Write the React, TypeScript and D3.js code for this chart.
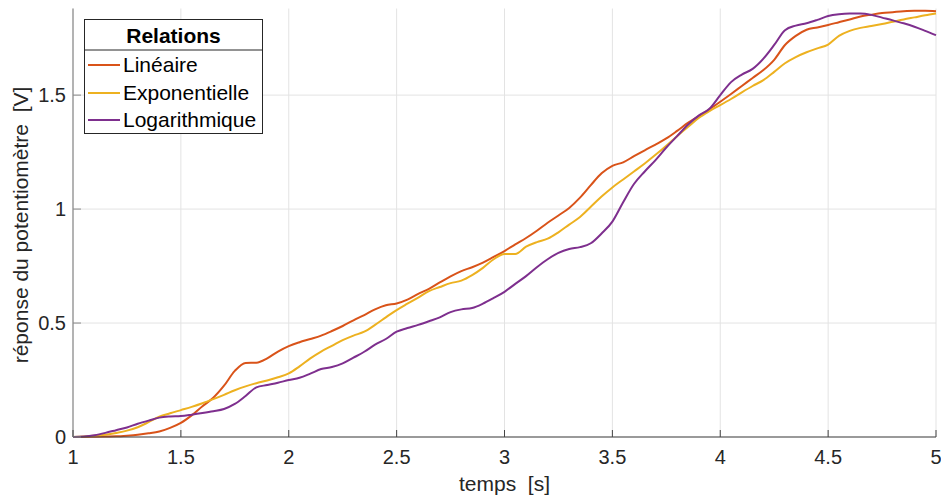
import React from "react";
import * as d3 from "d3";

const times = [
  1.0, 1.05, 1.1, 1.15, 1.2, 1.25, 1.3, 1.35, 1.4, 1.45, 1.5, 1.55, 1.6, 1.65, 1.7, 1.75, 1.8, 1.85, 1.9, 1.95,
  2.0, 2.05, 2.1, 2.15, 2.2, 2.25, 2.3, 2.35, 2.4, 2.45, 2.5, 2.55, 2.6, 2.65, 2.7, 2.75, 2.8, 2.85, 2.9, 2.95,
  3.0, 3.05, 3.1, 3.15, 3.2, 3.25, 3.3, 3.35, 3.4, 3.45, 3.5, 3.55, 3.6, 3.65, 3.7, 3.75, 3.8, 3.85, 3.9, 3.95,
  4.0, 4.05, 4.1, 4.15, 4.2, 4.25, 4.3, 4.35, 4.4, 4.45, 4.5, 4.55, 4.6, 4.65, 4.7, 4.75, 4.8, 4.85, 4.9, 4.95, 5.0,
];

const lineaire = [
  0.0, 0.0, 0.001, 0.002, 0.003, 0.006, 0.01, 0.016, 0.024, 0.04, 0.062, 0.095, 0.135, 0.172, 0.225, 0.29, 0.325, 0.326, 0.345, 0.375,
  0.399, 0.416, 0.43, 0.445, 0.465, 0.487, 0.512, 0.535, 0.56, 0.578, 0.586, 0.603, 0.628, 0.65, 0.678, 0.705, 0.728, 0.745, 0.765, 0.79,
  0.816, 0.845, 0.873, 0.905, 0.94, 0.972, 1.005, 1.05, 1.105, 1.157, 1.19, 1.205, 1.232, 1.258, 1.283, 1.31, 1.343, 1.378, 1.408, 1.438,
  1.471, 1.505, 1.54, 1.575, 1.61, 1.655, 1.72, 1.76, 1.787, 1.797, 1.808, 1.82, 1.832, 1.845, 1.853, 1.86, 1.864, 1.868, 1.87, 1.87, 1.868,
];

const exponentielle = [
  0.0, 0.002, 0.005, 0.01, 0.018, 0.028, 0.043, 0.065, 0.089, 0.104, 0.118, 0.132, 0.148, 0.166, 0.185, 0.205, 0.222, 0.236, 0.248, 0.262,
  0.279, 0.31, 0.345, 0.375, 0.4, 0.425, 0.445, 0.462, 0.492, 0.525, 0.557, 0.585, 0.612, 0.64, 0.658, 0.675, 0.686, 0.71, 0.742, 0.78,
  0.803, 0.803, 0.835, 0.855, 0.87, 0.898, 0.932, 0.965, 1.01, 1.055, 1.095, 1.13, 1.165, 1.2, 1.238, 1.278, 1.32, 1.36, 1.4, 1.43,
  1.456, 1.483, 1.512, 1.54, 1.566, 1.602, 1.64, 1.667, 1.688, 1.705, 1.722, 1.76, 1.782, 1.795, 1.803, 1.812, 1.822, 1.832, 1.841, 1.85, 1.858,
];

const logarithmique = [
  0.0, 0.002, 0.008, 0.018, 0.03, 0.042, 0.058, 0.072, 0.085, 0.09, 0.092, 0.098, 0.105, 0.113, 0.123, 0.145, 0.18, 0.218, 0.228, 0.238,
  0.25, 0.26, 0.278, 0.298, 0.307, 0.323, 0.348, 0.374, 0.405, 0.43, 0.462, 0.478, 0.492, 0.508, 0.525, 0.548, 0.56, 0.566, 0.585, 0.61,
  0.637, 0.672, 0.706, 0.745, 0.78, 0.808, 0.825, 0.833, 0.85, 0.893, 0.945, 1.03, 1.11, 1.165, 1.215, 1.27, 1.32, 1.37, 1.41, 1.44,
  1.5, 1.557, 1.59, 1.615, 1.66, 1.72, 1.785, 1.805, 1.815, 1.83, 1.847, 1.855, 1.858, 1.858, 1.852, 1.84, 1.828, 1.815, 1.8, 1.782, 1.763,
];

const seriesNames = ["Linéaire", "Exponentielle", "Logarithmique"];
const seriesColors = ["#D95319", "#EDB120", "#7E2F8E"];
const seriesValues = [lineaire, exponentielle, logarithmique];

const xTicks = [1, 1.5, 2, 2.5, 3, 3.5, 4, 4.5, 5];
const yTicks = [0, 0.5, 1, 1.5];

const W = 941;
const H = 502;
const left = 73;
const right = 936;
const top = 8.5;
const bottom = 437;

export default function App() {
  const x = d3.scaleLinear().domain([1, 5]).range([left, right]);
  const y = d3.scaleLinear().domain([0, 1.88]).range([bottom, top]);

  const lineGen = d3
    .line<number>()
    .x((_, i) => x(times[i]))
    .y((d) => y(d))
    .curve(d3.curveMonotoneX);

  const font = "'Liberation Sans', Arial, Helvetica, sans-serif";
  const legendRows = [65, 93, 120];

  return (
    <svg
      width={W}
      height={H}
      style={{ position: "absolute", left: 0, top: 0, background: "#fff" }}
      fontFamily={font}
    >
      <rect x={0} y={0} width={W} height={H} fill="#fff" />
      {/* grid */}
      {xTicks.map((t) => (
        <line key={"gx" + t} x1={x(t)} x2={x(t)} y1={top} y2={bottom} stroke="#e3e3e3" strokeWidth={1} />
      ))}
      {yTicks.map((t) => (
        <line key={"gy" + t} x1={left} x2={right} y1={y(t)} y2={y(t)} stroke="#e3e3e3" strokeWidth={1} />
      ))}
      {/* series */}
      {seriesValues.map((vals, i) => (
        <path
          key={seriesNames[i]}
          d={lineGen(vals) || ""}
          fill="none"
          stroke={seriesColors[i]}
          strokeWidth={2}
          strokeLinejoin="round"
        />
      ))}
      {/* axes */}
      <line x1={left} x2={left} y1={top} y2={bottom} stroke="#8a8a8a" strokeWidth={1.2} />
      <line x1={left} x2={right} y1={bottom} y2={bottom} stroke="#444" strokeWidth={1.2} />
      {xTicks.map((t) => (
        <g key={"xt" + t}>
          <line x1={x(t)} x2={x(t)} y1={bottom} y2={bottom - 7} stroke="#444" strokeWidth={1} />
          <text x={x(t)} y={464} textAnchor="middle" fontSize={20} fill="#262626">
            {String(t)}
          </text>
        </g>
      ))}
      {yTicks.map((t) => (
        <g key={"yt" + t}>
          <line x1={left} x2={left + 8} y1={y(t)} y2={y(t)} stroke="#8a8a8a" strokeWidth={1} />
          <text x={66} y={y(t) + 7} textAnchor="end" fontSize={20} fill="#262626">
            {String(t)}
          </text>
        </g>
      ))}
      <text
        x={(left + right) / 2 + 0}
        y={491}
        textAnchor="middle"
        fontSize={21}
        fill="#262626"
        style={{ whiteSpace: "pre" }}
      >
        {"temps  [s]"}
      </text>
      <text
        transform={`translate(28, 225) rotate(-90)`}
        textAnchor="middle"
        fontSize={21}
        fill="#262626"
        style={{ whiteSpace: "pre" }}
      >
        {"réponse du potentiomètre  [V]"}
      </text>
      {/* legend */}
      <rect x={84.5} y={19.5} width={178} height={114} fill="#fff" stroke="#262626" strokeWidth={1} />
      <line x1={84.5} x2={262.5} y1={50} y2={50} stroke="#262626" strokeWidth={1} />
      <text x={173.5} y={43} textAnchor="middle" fontSize={21} fontWeight="bold" fill="#000">
        Relations
      </text>
      {seriesNames.map((n, i) => (
        <g key={"lg" + n}>
          <line x1={88} x2={120} y1={legendRows[i]} y2={legendRows[i]} stroke={seriesColors[i]} strokeWidth={2} />
          <text x={123} y={legendRows[i] + 7} fontSize={21} fill="#000">
            {n}
          </text>
        </g>
      ))}
    </svg>
  );
}
